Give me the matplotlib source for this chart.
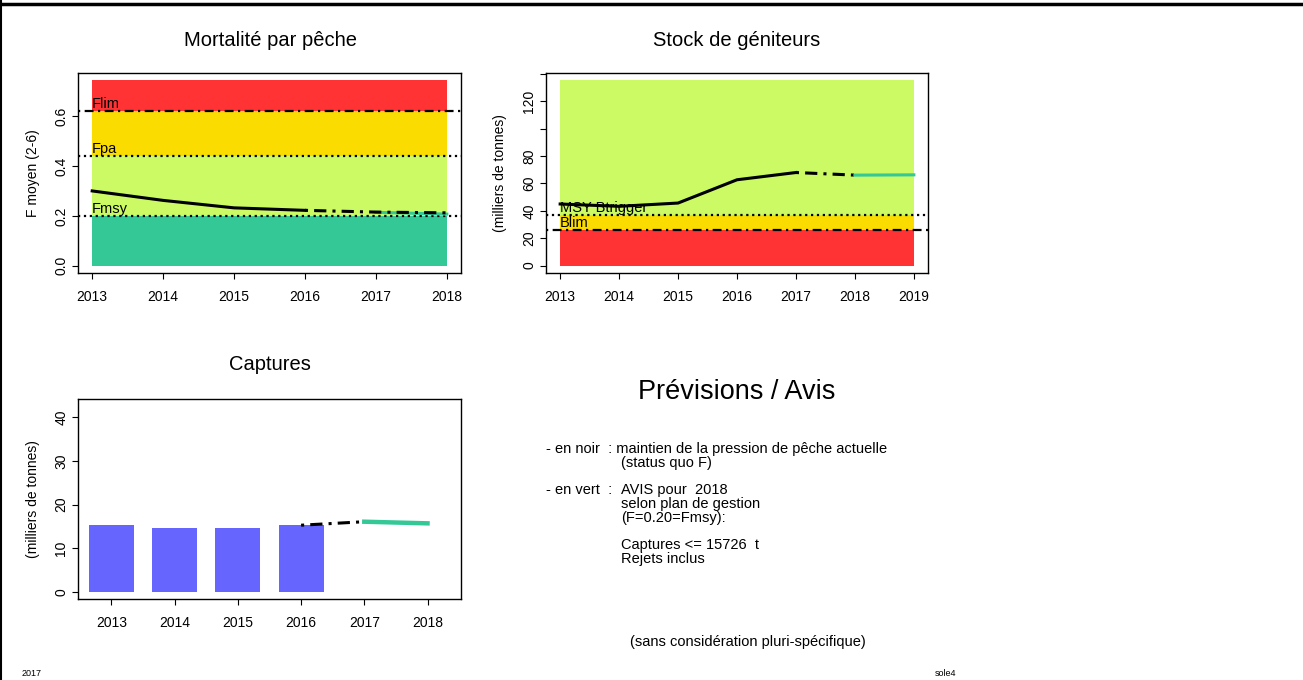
import matplotlib
matplotlib.use("Agg")
import matplotlib.pyplot as plt
from matplotlib.lines import Line2D

plt.rcParams['font.family'] = ['Liberation Sans', 'DejaVu Sans']

W, H = 1303, 680

# ---- data ----
# Fishing mortality
f_years = [2013, 2014, 2015, 2016]
f_obs = [0.300, 0.262, 0.232, 0.222]
f_sq_years = [2016, 2017, 2018]
f_sq = [0.222, 0.215, 0.212]
f_adv_years = [2017, 2018]
f_adv = [0.214, 0.207]
Flim, Fpa, Fmsy = 0.62, 0.44, 0.20

# Spawning stock (thousand t)
ssb_years = [2013, 2014, 2015, 2016, 2017]
ssb_obs = [45.0, 43.3, 45.7, 62.7, 68.0]
ssb_sq_years = [2017, 2018]
ssb_sq = [68.0, 66.1]
ssb_adv_years = [2018, 2019]
ssb_adv = [66.1, 66.3]
Btrigger, Blim = 37.0, 26.0

# Catches (thousand t)
catch_years = [2013, 2014, 2015, 2016]
catch_obs = [15.4, 14.7, 14.7, 15.4]
catch_sq_years = [2016, 2017]
catch_sq = [15.3, 16.1]
catch_adv_years = [2017, 2018]
catch_adv = [16.1, 15.726]

RED = '#FF3333'
YELLOW = '#FADC00'
LGREEN = '#CCFA64'
TEAL = '#33C896'
BLUE = '#6666FF'
DOTDASH = (0, (1, 2, 4, 2))


def px_axes(x0, y0, x1, y1):
    # axes from pixel box (top-left origin)
    return fig.add_axes([x0 / W, 1 - y1 / H, (x1 - x0) / W, (y1 - y0) / H])


def ftext(x, y, s, **kw):
    fig.text(x / W, 1 - y / H, s, **kw)


def r_style(ax):
    for sp in ax.spines.values():
        sp.set_linewidth(1.0)
    ax.tick_params(axis='x', length=4, pad=8, labelsize=10)
    ax.tick_params(axis='y', length=4, pad=3, labelsize=10)
    for lab in ax.get_yticklabels():
        lab.set_rotation(90)
        lab.set_va('center')


fig = plt.figure(figsize=(W / 100, H / 100), dpi=100)

# ---- panel 1 : Mortalité par pêche ----
ax1 = px_axes(78, 73, 461, 273)
x0, x1 = f_years[0], f_sq_years[-1]
top = Flim * 1.2
ax1.fill_between([x0, x1], Flim, top, color=RED, lw=0)
ax1.fill_between([x0, x1], Fpa, Flim, color=YELLOW, lw=0)
ax1.fill_between([x0, x1], Fmsy, Fpa, color=LGREEN, lw=0)
ax1.fill_between([x0, x1], 0, Fmsy, color=TEAL, lw=0)
ax1.axhline(Flim, color='black', lw=1.6, ls=DOTDASH)
ax1.axhline(Fpa, color='black', lw=1.6, ls=':')
ax1.axhline(Fmsy, color='black', lw=1.6, ls=':')
ax1.text(x0, Flim, 'Flim', fontsize=10.5, va='bottom')
ax1.text(x0, Fpa, 'Fpa', fontsize=10.5, va='bottom')
ax1.text(x0, Fmsy, 'Fmsy', fontsize=10.5, va='bottom')
ax1.plot(f_years, f_obs, color='black', lw=2.2)
ax1.plot(f_adv_years, f_adv, color=TEAL, lw=2.2)
ax1.plot(f_sq_years, f_sq, color='black', lw=2.2, ls=DOTDASH)
ax1.set_xlim(2012.8, 2018.2)
ax1.set_ylim(-0.0296, 0.7736)
ax1.set_xticks(range(2013, 2019))
ax1.set_yticks([0.0, 0.2, 0.4, 0.6])
ax1.set_yticklabels(['0.0', '0.2', '0.4', '0.6'])
r_style(ax1)
ftext(270, 40, 'Mortalité par pêche', fontsize=14.5, ha='center', va='center')
ftext(33, 173, 'F moyen (2-6)', fontsize=10, ha='center', va='center', rotation=90)

# ---- panel 2 : Stock de géniteurs ----
ax2 = px_axes(546, 73, 928, 273)
x0, x1 = ssb_years[0], ssb_adv_years[-1]
top = 135.3
ax2.fill_between([x0, x1], Btrigger, top, color=LGREEN, lw=0)
ax2.fill_between([x0, x1], Blim, Btrigger, color=YELLOW, lw=0)
ax2.fill_between([x0, x1], 0, Blim, color=RED, lw=0)
ax2.axhline(Btrigger, color='black', lw=1.6, ls=':')
ax2.axhline(Blim, color='black', lw=1.6, ls=DOTDASH)
ax2.text(x0, Btrigger, 'MSY Btrigger', fontsize=10.5, va='bottom')
ax2.text(x0, Blim, 'Blim', fontsize=10.5, va='bottom')
ax2.plot(ssb_years, ssb_obs, color='black', lw=2.2)
ax2.plot(ssb_sq_years, ssb_sq, color='black', lw=2.2, ls=DOTDASH)
ax2.plot(ssb_adv_years, ssb_adv, color=TEAL, lw=2.2)
ax2.set_xlim(2012.76, 2019.24)
ax2.set_ylim(-5.4, 140.7)
ax2.set_xticks(range(2013, 2020))
ax2.set_yticks(range(0, 141, 20))
ax2.set_yticklabels(['0', '20', '40', '60', '80', '', '120', ''])
r_style(ax2)
ftext(737, 40, 'Stock de géniteurs', fontsize=14.5, ha='center', va='center')
ftext(500, 173, '(milliers de tonnes)', fontsize=10, ha='center', va='center', rotation=90)

# ---- panel 3 : Captures ----
ax3 = px_axes(78, 399, 461, 599)
ax3.bar(catch_years, catch_obs, width=0.71, color=BLUE)
ax3.plot(catch_sq_years, catch_sq, color='black', lw=2.2, ls=DOTDASH)
ax3.plot(catch_adv_years, catch_adv, color=TEAL, lw=3.2)
ax3.set_xlim(2012.47, 2018.53)
ax3.set_ylim(-1.6, 44.2)
ax3.set_xticks(range(2013, 2019))
ax3.set_yticks([0, 10, 20, 30, 40])
r_style(ax3)
ftext(270, 365, 'Captures', fontsize=14.5, ha='center', va='center')
ftext(33, 499, '(milliers de tonnes)', fontsize=10, ha='center', va='center', rotation=90)

# ---- panel 4 : text ----
ftext(737, 392, 'Prévisions / Avis', fontsize=19.5, ha='center', va='center')
body = [
    (546, 449, '- en noir  : maintien de la pression de pêche actuelle'),
    (621, 463, '(status quo F)'),
    (546, 490, '- en vert  :'),
    (621, 490, 'AVIS pour  2018'),
    (621, 504, 'selon plan de gestion'),
    (621, 518, '(F=0.20=Fmsy):'),
    (621, 545, 'Captures <= 15726  t'),
    (621, 559, 'Rejets inclus'),
]
for x, y, s in body:
    ftext(x, y, s, fontsize=10.5, ha='left', va='center')
ftext(748, 642, '(sans considération pluri-spécifique)', fontsize=10.5, ha='center', va='center')

# footer
ftext(22, 674, '2017', fontsize=6.5, ha='left', va='center')
ftext(935, 674, 'sole4', fontsize=6.5, ha='left', va='center')

# frame lines (top and left)
fig.add_artist(Line2D([0, 1], [1 - 4 / H, 1 - 4 / H], color='black', lw=2.5, transform=fig.transFigure))
fig.add_artist(Line2D([1 / W, 1 / W], [0, 1], color='black', lw=1.5, transform=fig.transFigure))

plt.savefig('out.png', dpi=100)
